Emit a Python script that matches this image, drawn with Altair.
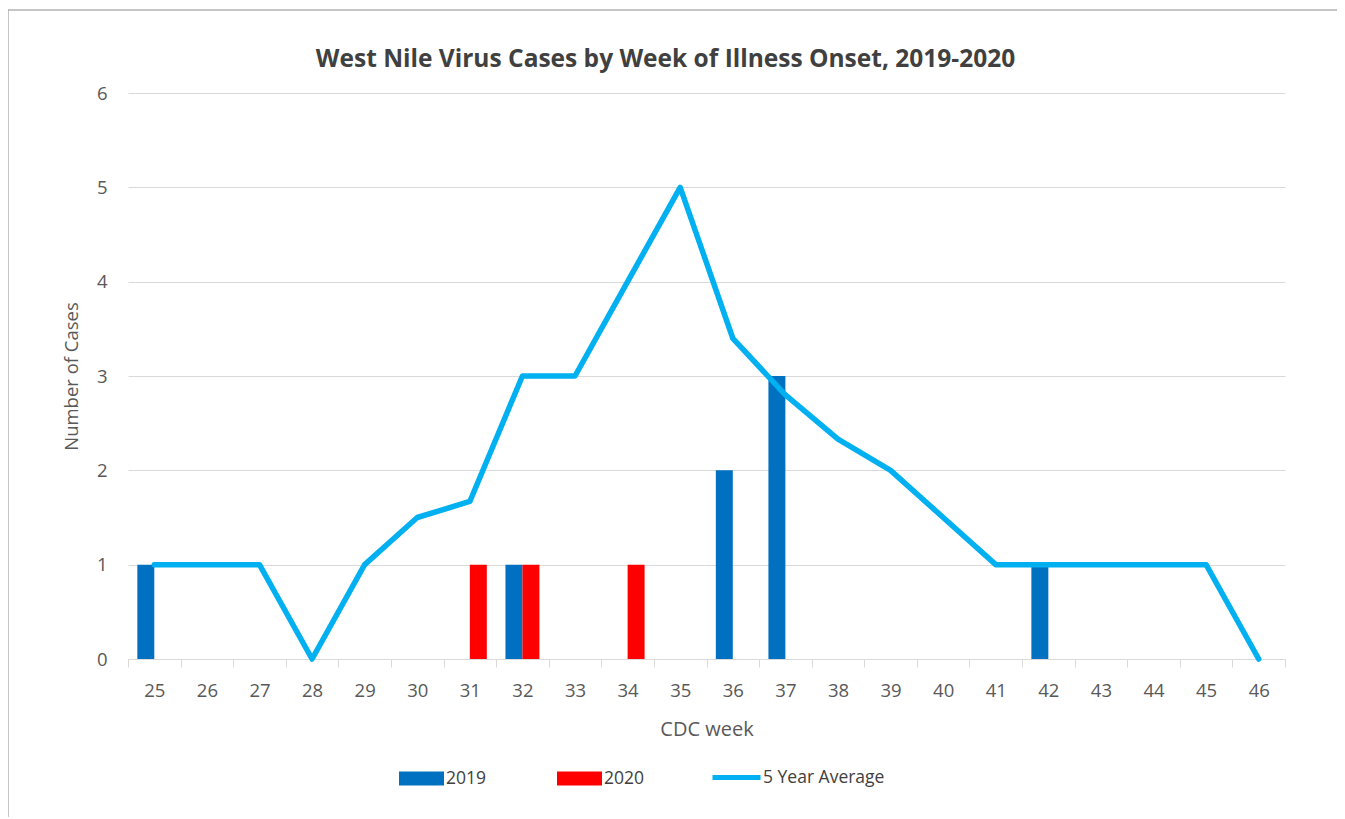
import altair as alt
import pandas as pd

weeks = [str(w) for w in range(25, 47)]
cases_2019 = [1, 0, 0, 0, 0, 0, 0, 1, 0, 0, 0, 2, 3, 0, 0, 0, 0, 1, 0, 0, 0, 0]
cases_2020 = [0, 0, 0, 0, 0, 0, 1, 1, 0, 1, 0, 0, 0, 0, 0, 0, 0, 0, 0, 0, 0, 0]
avg_5yr = [1, 1, 1, 0, 1, 1.5, 1.67, 3, 3, 4, 5, 3.4, 2.8, 2.33, 2, 1.5, 1, 1, 1, 1, 1, 0]
years = ["2019", "2020"]
line_name = "5 Year Average"
y_ticks = [0, 1, 2, 3, 4, 5, 6]

bars = pd.DataFrame(
    [{"week": w, "year": "2019", "cases": v} for w, v in zip(weeks, cases_2019)]
    + [{"week": w, "year": "2020", "cases": v} for w, v in zip(weeks, cases_2020)]
)
bars = bars[bars["cases"] > 0]
line_df = pd.DataFrame({"week": weeks, "avg": avg_5yr, "series": line_name})

FONT = "Open Sans"
TXT = "#595959"
GRID = "#d9d9d9"

W, H = 1157, 566
PAD = {"left": 120, "top": 85, "right": 52, "bottom": 158}

x_axis = alt.Axis(
    title="CDC week",
    labelAngle=0,
    tickBand="extent",
    tickSize=8,
    tickColor=GRID,
    domainColor=GRID,
    grid=False,
    labelPadding=14,
    titlePadding=20,
    labelFontSize=18.5,
    titleFontSize=20,
)
x_scale = alt.Scale(domain=weeks, paddingInner=0, paddingOuter=0)

y_axis = alt.Axis(
    title="Number of Cases",
    values=y_ticks,
    domain=False,
    ticks=False,
    grid=True,
    gridColor=GRID,
    labelPadding=21,
    titlePadding=15,
    labelFontSize=18.5,
    titleFontSize=18.5,
    labelOverlap=False,
)
y_scale = alt.Scale(domain=[0, 6])

bar_layer = alt.Chart(bars).mark_bar().encode(
    x=alt.X("week:N", sort=weeks, scale=x_scale, axis=x_axis),
    xOffset=alt.XOffset("year:N", scale=alt.Scale(domain=years, paddingOuter=0.55, paddingInner=0)),
    y=alt.Y("cases:Q", scale=y_scale, axis=y_axis),
    color=alt.Color(
        "year:N",
        scale=alt.Scale(domain=years, range=["#0070C0", "#FF0000"]),
        legend=alt.Legend(
            title=None,
            orient="none",
            legendX=271,
            legendY=663,
            direction="horizontal",
            columns=2,
            columnPadding=70,
            symbolType="M-1,-0.31H1V0.31H-1Z",
            symbolSize=2025,
            symbolStrokeWidth=0,
            labelOffset=2,
            padding=0,
        ),
    ),
)

avg_layer = alt.Chart(line_df).mark_line(
    strokeWidth=5.5, strokeCap="round", strokeJoin="round"
).encode(
    x=alt.X("week:N", sort=weeks, scale=x_scale, axis=x_axis),
    y=alt.Y("avg:Q", scale=y_scale, axis=y_axis),
    stroke=alt.Stroke(
        "series:N",
        scale=alt.Scale(domain=[line_name], range=["#00B0F0"]),
        legend=alt.Legend(
            title=None,
            orient="none",
            legendX=582,
            legendY=658,
            symbolType="stroke",
            symbolSize=2304,
            symbolStrokeWidth=5,
            labelOffset=0,
            padding=0,
        ),
    ),
)

frame = alt.Chart(pd.DataFrame({"k": [0]})).mark_rect(
    fillOpacity=0, stroke="#8c8c8c", strokeWidth=1
).encode(
    x=alt.value(-120),
    x2=alt.value(1210),
    y=alt.value(-83),
    y2=alt.value(740),
)

chart = (
    alt.layer(frame, bar_layer, avg_layer)
    .properties(
        width=W,
        height=H,
        padding=PAD,
        autosize=alt.AutoSizeParams(type="none"),
        title=alt.Title(
            "West Nile Virus Cases by Week of Illness Onset, 2019-2020",
            fontSize=24.5,
            fontWeight="bold",
            font=FONT,
            color="#404040",
            anchor="middle",
            dx=-41,
            offset=-63,
        ),
    )
    .configure_view(stroke=None)
    .configure_axis(
        labelFont=FONT,
        titleFont=FONT,
        labelColor=TXT,
        titleColor=TXT,
        titleFontWeight="normal",
    )
    .configure_legend(labelFont=FONT, labelFontSize=17.5, labelColor="#404040")
)

chart.save("out.html", embed_options={"renderer": "svg", "actions": False})
